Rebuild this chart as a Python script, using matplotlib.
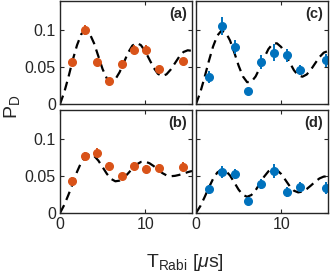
import matplotlib
matplotlib.use("Agg")
import matplotlib.pyplot as plt

plt.rcParams["font.family"] = ["Liberation Sans", "DejaVu Sans"]
plt.rcParams["mathtext.fontset"] = "custom"
plt.rcParams["mathtext.rm"] = "Liberation Sans"
plt.rcParams["mathtext.it"] = "Liberation Sans:italic"

# measured points
t_left = [1.45, 2.9, 4.35, 5.8, 7.25, 8.7, 10.15, 11.6, 14.5]
t_right = [1.53, 3.06, 4.59, 6.12, 7.65, 9.18, 10.71, 12.24, 15.3]

pd_a = [0.057, 0.101, 0.057, 0.031, 0.055, 0.074, 0.074, 0.047, 0.058]
err_a = [0.005, 0.007, 0.005, 0.004, 0.005, 0.006, 0.006, 0.005, 0.005]
pd_b = [0.0435, 0.077, 0.082, 0.064, 0.050, 0.064, 0.060, 0.061, 0.063]
err_b = [0.005, 0.006, 0.006, 0.005, 0.004, 0.005, 0.005, 0.005, 0.006]
pd_c = [0.037, 0.106, 0.0775, 0.017, 0.057, 0.070, 0.066, 0.046, 0.0595]
err_c = [0.008, 0.012, 0.009, 0.003, 0.009, 0.011, 0.009, 0.007, 0.009]
pd_d = [0.032, 0.0555, 0.053, 0.0157, 0.039, 0.057, 0.029, 0.036, 0.034]
err_d = [0.006, 0.008, 0.007, 0.003, 0.007, 0.009, 0.007, 0.006, 0.008]

# theory curves, read every 0.5 us
t_fit = [i * 0.5 for i in range(32)]
fit_a = [0, 0.016, 0.037, 0.060, 0.080, 0.095, 0.100, 0.0953, 0.0825, 0.065,
         0.0475, 0.0347, 0.030, 0.0336, 0.0433, 0.0565, 0.0698, 0.0794, 0.083,
         0.080, 0.0718, 0.0605, 0.0493, 0.041, 0.038, 0.0403, 0.0468, 0.0555,
         0.0643, 0.0707, 0.073, 0.0722]
fit_b = [0, 0.011, 0.025, 0.040, 0.056, 0.069, 0.077, 0.080, 0.0777, 0.0713,
         0.0624, 0.0533, 0.0463, 0.0431, 0.0440, 0.0479, 0.0539, 0.0604, 0.0660,
         0.0694, 0.0698, 0.0677, 0.0638, 0.059, 0.0544, 0.0512, 0.050, 0.0505,
         0.0518, 0.0536, 0.0555, 0.0571]
fit_c = [0, 0.0157, 0.036, 0.058, 0.078, 0.093, 0.0998, 0.0971, 0.0862, 0.0699,
         0.0522, 0.0376, 0.0297, 0.0302, 0.0374, 0.0492, 0.0628, 0.0746, 0.0818,
         0.0825, 0.0775, 0.068, 0.0565, 0.0459, 0.0389, 0.0371, 0.0401, 0.0468,
         0.0554, 0.0638, 0.0698, 0.072]
fit_d = [0, 0.0092, 0.0213, 0.0343, 0.0463, 0.055, 0.0589, 0.0573, 0.0509, 0.0415,
         0.0318, 0.0247, 0.022, 0.0244, 0.031, 0.040, 0.0494, 0.0566, 0.0599,
         0.0585, 0.053, 0.0449, 0.0365, 0.0303, 0.028, 0.0292, 0.0326, 0.0374,
         0.0426, 0.047, 0.0495, 0.0499]

orange = "#D95319"
blue = "#0072BD"
frame = "#262626"

W, H = 332, 277
fig = plt.figure(figsize=(W / 100, H / 100), dpi=100)


def make_ax(x0, y_top, y_bot):
    return fig.add_axes([x0 / W, 1 - y_bot / H, 132 / W, (y_bot - y_top) / H])


panels = [
    (make_ax(60, 1, 104), t_left, pd_a, err_a, fit_a, orange, "(a)"),
    (make_ax(60, 110, 213), t_left, pd_b, err_b, fit_b, orange, "(b)"),
    (make_ax(196, 1, 104), t_right, pd_c, err_c, fit_c, blue, "(c)"),
    (make_ax(196, 110, 213), t_right, pd_d, err_d, fit_d, blue, "(d)"),
]

for i, (ax, t, y, e, fit, col, lab) in enumerate(panels):
    ax.plot(t_fit, fit, color="black", lw=1.6, dashes=(4, 2.5))
    ax.errorbar(t, y, yerr=e, fmt="o", color=col, ms=5.5, elinewidth=1.4,
                capsize=0)
    ax.set_xlim(0, 15.5)
    ax.set_ylim(0, 0.14)
    ax.set_xticks([0, 10])
    ax.set_yticks([0, 0.05, 0.1])
    ax.tick_params(direction="in", length=3, width=0.8, top=True, right=True,
                   labelsize=11.5, colors=frame, pad=3)
    for s in ax.spines.values():
        s.set_color(frame)
        s.set_linewidth(1.0)
    if i in (0, 1):
        ax.set_yticklabels(["0", "0.05", "0.1"])
    else:
        ax.set_yticklabels([])
    if i in (0, 2):
        ax.set_xticklabels([])
    ax.text(0.96, 0.87, lab, transform=ax.transAxes, ha="right", va="center",
            fontsize=10.5, fontweight="bold", color=frame)

fig.text(12 / W, 1 - 107 / H, "P$_\\mathrm{D}$", rotation=90, ha="center",
         va="center", fontsize=14, color=frame)
fig.text(185 / W, 1 - 267 / H, "T$_\\mathrm{Rabi}$ [$\\mu$s]", ha="center",
         va="baseline", fontsize=14, color=frame)

fig.savefig("out.png", dpi=100)
